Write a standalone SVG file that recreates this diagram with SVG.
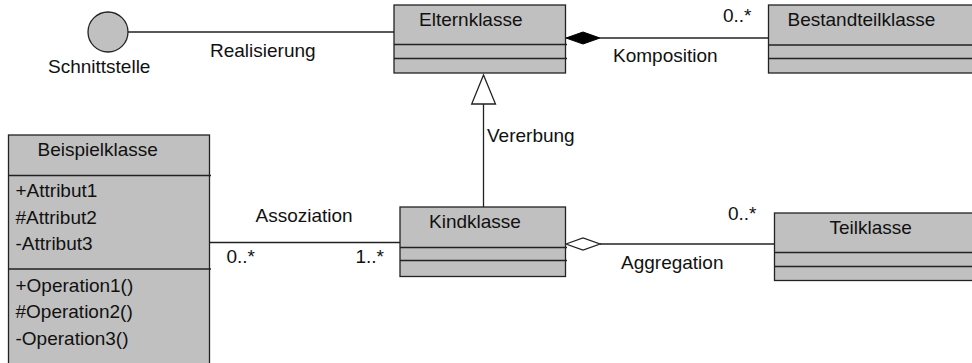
<svg xmlns="http://www.w3.org/2000/svg" width="972" height="363" viewBox="0 0 972 363">
<style>
.box{fill:#c0c0c0;stroke:#222;stroke-width:1.3}
.ln{stroke:#222;stroke-width:1.3;fill:none}
text{font-family:"Liberation Sans",Arial,sans-serif;font-size:19px;fill:#111}
</style>
<rect width="972" height="363" fill="#fff"/>
<g id="connectors">
<line class="ln" x1="128" y1="32" x2="394" y2="32"/>
<line class="ln" x1="600" y1="38" x2="768" y2="38"/>
<polygon points="566,38 583,32 600,38 583,44" fill="#000" stroke="#000" stroke-width="1"/>
<line class="ln" x1="483.5" y1="104" x2="483.5" y2="207"/>
<polygon points="483.5,75 471.7,104 495.5,104" fill="#fff" stroke="#222" stroke-width="1.3"/>
<line class="ln" x1="209.5" y1="242.5" x2="400" y2="242.5"/>
<line class="ln" x1="600" y1="244" x2="774" y2="244"/>
<polygon points="566,244 583,238 600,244 583,250" fill="#fff" stroke="#222" stroke-width="1.3"/>
<text x="210" y="57">Realisierung</text>
<text x="613" y="62">Komposition</text>
<text x="723" y="22">0..*</text>
<text x="487" y="142">Vererbung</text>
<text x="255.5" y="222">Assoziation</text>
<text x="226.5" y="263">0..*</text>
<text x="355.5" y="263">1..*</text>
<text x="621" y="268.5">Aggregation</text>
<text x="728" y="220">0..*</text>
</g>
<g id="schnittstelle">
<circle cx="108" cy="32" r="20" class="box"/>
<text x="48" y="73">Schnittstelle</text>
</g>
<g id="elternklasse">
<rect class="box" x="394" y="5" width="171.5" height="68"/>
<line class="ln" x1="394" y1="44.5" x2="567" y2="44.5"/>
<line class="ln" x1="394" y1="58.5" x2="567" y2="58.5"/>
<text x="419" y="26">Elternklasse</text>
</g>
<g id="bestandteilklasse">
<rect class="box" x="768.5" y="5" width="220" height="68"/>
<line class="ln" x1="768.5" y1="45" x2="972" y2="45"/>
<line class="ln" x1="768.5" y1="58.5" x2="972" y2="58.5"/>
<text x="787.5" y="26">Bestandteilklasse</text>
</g>
<g id="beispielklasse">
<rect class="box" x="8.5" y="135" width="201" height="250"/>
<line class="ln" x1="8.5" y1="175.5" x2="211" y2="175.5"/>
<line class="ln" x1="8.5" y1="269" x2="211" y2="269"/>
<text x="37.5" y="156">Beispielklasse</text>
<text x="15.5" y="197">+Attribut1</text>
<text x="15.5" y="223.5">#Attribut2</text>
<text x="15.5" y="250">-Attribut3</text>
<text x="15.5" y="291.5">+Operation1()</text>
<text x="15.5" y="318">#Operation2()</text>
<text x="15.5" y="344.5">-Operation3()</text>
</g>
<g id="kindklasse">
<rect class="box" x="400" y="207" width="165.5" height="69.5"/>
<line class="ln" x1="400" y1="247.5" x2="567" y2="247.5"/>
<line class="ln" x1="400" y1="260.5" x2="567" y2="260.5"/>
<text x="429" y="227.5">Kindklasse</text>
</g>
<g id="teilklasse">
<rect class="box" x="774.5" y="213" width="220" height="67.5"/>
<line class="ln" x1="774.5" y1="252.5" x2="972" y2="252.5"/>
<line class="ln" x1="774.5" y1="266.5" x2="972" y2="266.5"/>
<text x="829.5" y="233.5">Teilklasse</text>
</g>
</svg>
